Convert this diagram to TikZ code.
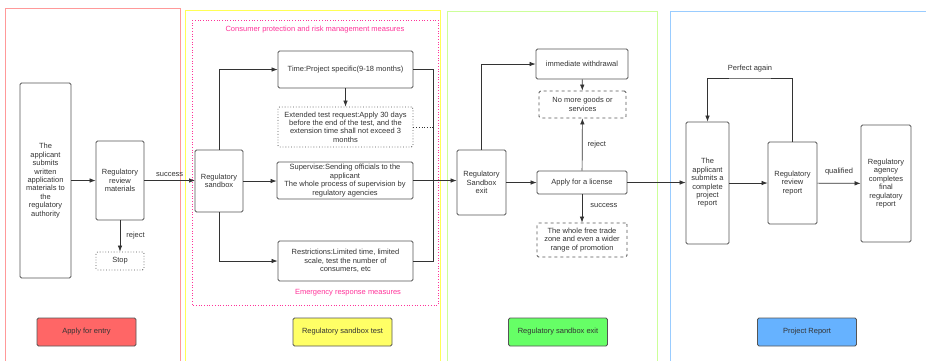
\documentclass[tikz,border=0pt]{standalone}
\usepackage{fontspec}
\setmainfont{Liberation Sans}
\usepackage{xcolor}
\usepackage{tikz}
\usetikzlibrary{arrows.meta,positioning,calc}

\definecolor{panelred}{HTML}{FF9999}
\definecolor{panelyellow}{HTML}{FFFF55}
\definecolor{panelgreen}{HTML}{CCFF99}
\definecolor{panelblue}{HTML}{99CCFF}
\definecolor{tagred}{HTML}{FF6666}
\definecolor{tagyellow}{HTML}{FFFF66}
\definecolor{taggreen}{HTML}{66FF66}
\definecolor{tagblue}{HTML}{66B2FF}
\definecolor{pinktxt}{HTML}{FF3399}
\definecolor{boxgray}{HTML}{555555}
\definecolor{linegray}{HTML}{333333}
\definecolor{txtgray}{HTML}{333333}

\begin{document}
\begin{tikzpicture}[x=1pt,y=-1pt,font=\fontsize{7.5}{8.4}\selectfont,
    box/.style={draw=boxgray,rounded corners=1.5pt,line width=0.8pt,align=center,inner sep=1pt,text=txtgray},
    dotbox/.style={box,dotted},
    dashbox/.style={box,dashed},
    tag/.style={box,minimum width=99pt,minimum height=28pt},
    arr/.style={-{Latex[length=6pt,width=4.5pt]},draw=linegray,line width=0.7pt},
    plain/.style={draw=linegray,line width=0.7pt},
    lbl/.style={text=txtgray,inner sep=2pt},
    pink/.style={text=pinktxt}]
\useasboundingbox (0,0) rectangle (926,360);

% panels
\draw[panelred,line width=0.8pt] (5,8) rectangle (180,365);
\draw[panelyellow,line width=0.8pt] (185,10) rectangle (440,365);
\draw[panelgreen,line width=0.8pt] (447,11) rectangle (657,365);
\draw[panelblue,line width=0.8pt] (670,11) rectangle (935,365);
\draw[pinktxt,dotted,line width=0.7pt] (192,20) rectangle (438,305);
\node[pink] (cpt) at (315,30) {Consumer protection and risk management measures};
\node[pink] (ert) at (348,293) {Emergency response measures};

% apply for entry
\node[box,minimum width=51pt,minimum height=195pt] (app) at (45.5,180.5)
    {The\\applicant\\submits\\written\\application\\materials to\\the\\regulatory\\authority};
\node[box,minimum width=48pt,minimum height=79pt] (revmat) at (120,180.5) {Regulatory\\review\\materials};
\node[dotbox,minimum width=48pt,minimum height=18pt] (stop) at (120,261) {Stop};
\node[tag,fill=tagred] (entry) at (86.5,332) {Apply for entry};

\draw[arr] (app) -- (revmat);
\draw[arr] (revmat) -- (stop) node[lbl,midway,right=4pt]{reject};
\draw[arr] (revmat.east) -- (revmat.east -| 195,0) node[lbl,midway,above=2pt]{success};

% sandbox test
\node[box,minimum width=48pt,minimum height=62pt] (sandbox) at (219,181) {Regulatory\\sandbox};
\node[box,minimum width=135pt,minimum height=37pt] (time) at (345.5,69.5) {Time:Project specific(9-18 months)};
\node[dotbox,minimum width=135pt,minimum height=40pt] (ext) at (345.5,127)
    {Extended test request:Apply 30 days\\before the end of the test, and the\\extension time shall not exceed 3\\months};
\node[box,minimum width=136pt,minimum height=37pt] (sup) at (345,180.5)
    {Supervise:Sending officials to the\\applicant\\The whole process of supervision by\\regulatory agencies};
\node[box,minimum width=135pt,minimum height=40pt] (restr) at (345.5,261)
    {Restrictions:Limited time, limited\\scale, test the number of\\consumers, etc};
\node[tag,fill=tagyellow] (test) at (342.5,332) {Regulatory sandbox test};
\coordinate (rail) at (433,0);

\draw[arr] (sandbox.north) |- (time.west);
\draw[arr] (sandbox.east) -- (sandbox.east -| sup.west);
\draw[arr] (sandbox.south) |- (restr.west);
\draw[arr] (time) -- (ext);
\draw[plain] (time.east) -| (rail |- restr.east) -- (restr.east);
\draw[plain,dotted] (ext.east) -- (ext.east -| rail);

% sandbox exit
\node[box,minimum width=49pt,minimum height=65pt] (exitb) at (481.5,182.5) {Regulatory\\Sandbox\\exit};
\node[box,minimum width=92pt,minimum height=30pt] (withdraw) at (582,64) {immediate withdrawal};
\node[dashbox,minimum width=87pt,minimum height=27pt] (nomore) at (582.5,104.5) {No more goods or\\services};
\node[box,minimum width=90pt,minimum height=23pt] (license) at (582,182.5) {Apply for a license};
\node[dashbox,minimum width=90pt,minimum height=34pt] (freetr) at (582,240)
    {The whole free trade\\zone and even a wider\\range of promotion};
\node[tag,fill=taggreen] (exitlbl) at (558,332) {Regulatory sandbox exit};

\draw[arr] (sup.east) -- (sup.east -| exitb.west);
\draw[arr] (exitb.north) |- (withdraw.west);
\draw[arr] (withdraw) -- (nomore);
\draw[arr] (license) -- (nomore) node[lbl,midway,right=3pt]{reject};
\draw[arr] (exitb) -- (license);
\draw[arr] (license) -- (freetr) node[lbl,pos=0.4,right=6pt]{success};

% project report
\node[box,minimum width=43pt,minimum height=122pt] (report) at (707.5,183)
    {The\\applicant\\submits a\\complete\\project\\report};
\node[box,minimum width=49pt,minimum height=82pt] (revrep) at (792.5,183) {Regulatory\\review\\report};
\node[box,minimum width=50pt,minimum height=117pt] (final) at (886,183.5)
    {Regulatory\\agency\\completes\\final\\regulatory\\report};
\node[tag,fill=tagblue] (projlbl) at (807,332) {Project Report};
\coordinate (loop) at (750,78);

\draw[arr] (license.east) -- (license.east -| report.west);
\draw[arr] (report) -- (revrep);
\draw[arr] (revrep) -- (final) node[lbl,midway,above=6pt]{qualified};
\draw[arr] (revrep.north) |- (loop) -| (report.north);
\node[lbl,above=4pt] (again) at (loop) {Perfect again};
\end{tikzpicture}
\end{document}
